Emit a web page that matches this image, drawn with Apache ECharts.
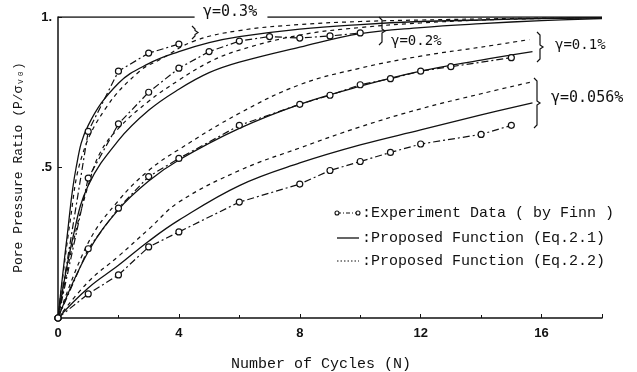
<!DOCTYPE html>
<html><head><meta charset="utf-8">
<script src="https://cdn.jsdelivr.net/npm/echarts/dist/echarts.min.js"></script>
<style>html,body{margin:0;padding:0;background:#fff}#c{width:637px;height:372px}</style>
</head><body><div id="c"></div>
<script>
// ---- data ----
const xTickLabels = ['0','4','8','12','16'];
const yTickLabels = {0.5:'.5', 1:'1.'};

// gamma = 0.3 %
const exp03N = [0,1,2,3,4];
const exp03R = [0,0.62,0.82,0.88,0.91];
const eq1_03N = [0,0.3,0.6,1,2,3,4,5,6,8,10,12,14,16,18];
const eq1_03R = [0,0.27,0.5,0.64,0.78,0.845,0.885,0.915,0.935,0.96,0.975,0.985,0.99,0.995,0.997];
const eq2_03N = [0,0.4,0.8,1.6,2.7,3.4,4.5,6,8,10,12,15,18];
const eq2_03R = [0,0.32,0.54,0.70,0.82,0.86,0.92,0.955,0.975,0.985,0.99,0.995,0.998];

// gamma = 0.2 %
const exp02N = [0,1,2,3,4,5,6,7,8,9,10];
const exp02R = [0,0.465,0.645,0.75,0.83,0.885,0.92,0.935,0.93,0.937,0.947];
const eq1_02N = [0,0.5,1,2,3,4,5,6,8,10,12,14,16,18];
const eq1_02R = [0,0.27,0.44,0.59,0.69,0.76,0.815,0.85,0.9,0.945,0.965,0.978,0.988,0.995];
const eq2_02N = [0,0.5,1,1.4,2,3,4,5,6,8,10,12,14,16,18];
const eq2_02R = [0,0.25,0.44,0.55,0.63,0.72,0.79,0.85,0.89,0.94,0.965,0.98,0.99,0.995,0.998];

// gamma = 0.1 %
const exp01N = [0,1,2,3,4,6,8,9,10,11,12,13,15];
const exp01R = [0,0.23,0.365,0.47,0.53,0.64,0.71,0.74,0.775,0.795,0.82,0.835,0.865];
const eq1_01N = [0,1,2,3,4,6,8,10,12,14,15.7];
const eq1_01R = [0,0.22,0.36,0.455,0.525,0.63,0.71,0.77,0.82,0.857,0.885];
const eq2_01N = [0,1,2,3,4,6,8,10,12,14,15.6];
const eq2_01R = [0,0.25,0.39,0.49,0.56,0.68,0.775,0.83,0.87,0.9,0.925];

// gamma = 0.056 %
const exp0056N = [0,1,2,3,4,6,8,9,10,11,12,14,15];
const exp0056R = [0,0.08,0.143,0.236,0.286,0.385,0.445,0.49,0.52,0.55,0.578,0.61,0.64];
const eq1_0056N = [0,1,2,3,4,6,8,10,12,14,15.7];
const eq1_0056R = [0,0.1,0.175,0.255,0.325,0.44,0.515,0.575,0.625,0.675,0.715];
const eq2_0056N = [0,1,2,3,4,6,8,10,12,14,15.7];
const eq2_0056R = [0,0.12,0.205,0.295,0.385,0.49,0.565,0.635,0.695,0.745,0.785];

// top frame line (broken by the 0.3% label)
const frameA = [[0,1],[4.52,1]];
const frameB = [[6.93,1],[18,1]];

const gammaLabels = ['γ=0.3%','γ=0.2%','γ=0.1%','γ=0.056%'];
const legendNames = ['Experiment Data ( by Finn )','Proposed Function (Eq.2.1)','Proposed Function (Eq.2.2)'];

// ---- chart ----
const pairs = (n, r) => n.map((v, i) => [v, r[i]]);
const K = '#111';
const DASHDOT = [7,3,2,3];
const DASH = [4,4];
function expSeries(n, r){
  return {type:'line', name:legendNames[0], data:pairs(n,r), smooth:false,
    symbol:'circle', symbolSize:6, showSymbol:true,
    lineStyle:{color:K, width:1.2, type:DASHDOT},
    itemStyle:{color:'#fff', borderColor:K, borderWidth:1.2}, z:4};
}
function eq1Series(n, r){
  return {type:'line', name:legendNames[1], data:pairs(n,r), smooth:0.4,
    symbol:'none', lineStyle:{color:K, width:1.3, type:'solid'}, itemStyle:{color:K}, z:3};
}
function eq2Series(n, r){
  return {type:'line', name:legendNames[2], data:pairs(n,r), smooth:0.4,
    symbol:'none', lineStyle:{color:K, width:1.2, type:DASH}, itemStyle:{color:K}, z:3};
}
function frameSeries(d){
  return {type:'line', name:'frame', data:d, symbol:'none', silent:true,
    lineStyle:{color:K, width:1.5}, z:2};
}
function brace(x, y1, y2){
  const ym = (y1 + y2) / 2;
  return {type:'polyline', shape:{points:[[x,y1],[x+3,y1+3],[x+3,ym-2],[x+6,ym],[x+3,ym+2],[x+3,y2-3],[x,y2]]},
    style:{stroke:K, lineWidth:1.2, fill:null}};
}
const gStyle = {fontFamily:'DejaVu Sans Mono', fontSize:14, fill:K};
const lStyle = {fontFamily:'Liberation Mono', fontSize:15, fill:K, verticalAlign:'middle'};
const legendRows = [213, 238, 261];
const iconX1 = 337, iconX2 = 358, textX = 362;
function legendGraphics(){
  const g = [];
  g.push({type:'line', shape:{x1:iconX1, y1:legendRows[0], x2:iconX2, y2:legendRows[0]},
    style:{stroke:K, lineWidth:1.2, lineDash:[4,2,1,2]}});
  g.push({type:'circle', shape:{cx:iconX1, cy:legendRows[0], r:2}, style:{stroke:K, fill:'#fff', lineWidth:1.1}});
  g.push({type:'circle', shape:{cx:iconX2, cy:legendRows[0], r:2}, style:{stroke:K, fill:'#fff', lineWidth:1.1}});
  g.push({type:'line', shape:{x1:iconX1, y1:legendRows[1], x2:iconX2+1, y2:legendRows[1]},
    style:{stroke:K, lineWidth:1.3}});
  g.push({type:'line', shape:{x1:iconX1, y1:legendRows[2], x2:iconX2+1, y2:legendRows[2]},
    style:{stroke:K, lineWidth:1.2, lineDash:[1.5,2]}});
  legendNames.forEach((nm, i) => {
    g.push({type:'text', x:textX, y:legendRows[i], style:Object.assign({text:':' + nm}, lStyle)});
  });
  return g;
}

const chart = echarts.init(document.getElementById('c'), null, {renderer:'canvas'});
chart.setOption({
  animation:false,
  backgroundColor:'#fff',
  grid:{left:58, right:35, top:17, bottom:54, containLabel:false, outerBoundsMode:'none'},
  xAxis:{
    type:'value', min:0, max:18, interval:4,
    name:'Number of Cycles (N)', nameLocation:'middle', nameGap:39,
    nameTextStyle:{fontFamily:'Liberation Mono', fontSize:15, color:K, padding:[0,18,0,0]},
    axisLine:{lineStyle:{color:K, width:1.5}},
    axisTick:{show:true, inside:true, length:4, lineStyle:{color:K}},
    minorTick:{show:true, splitNumber:2, length:3, lineStyle:{color:K}},
    splitLine:{show:false},
    axisLabel:{fontFamily:'Liberation Sans', fontWeight:'bold', fontSize:13, color:K, margin:9,
      formatter: v => (v % 4 === 0 && v <= 16) ? xTickLabels[v/4] : ''}
  },
  yAxis:{
    type:'value', min:0, max:1, interval:0.5,
    name:'Pore Pressure Ratio (P/σᵥ₀)', nameLocation:'middle', nameGap:33, nameRotate:90,
    nameTextStyle:{fontFamily:'Liberation Mono', fontSize:13, color:K},
    axisLine:{show:true, lineStyle:{color:K, width:1.5}},
    axisTick:{show:true, inside:true, length:4, lineStyle:{color:K}},
    splitLine:{show:false},
    axisLabel:{fontFamily:'Liberation Sans', fontWeight:'bold', fontSize:13, color:K, margin:6,
      formatter: v => yTickLabels[v] || ''}
  },
  series:[
    frameSeries(frameA), frameSeries(frameB),
    expSeries(exp03N, exp03R), eq1Series(eq1_03N, eq1_03R), eq2Series(eq2_03N, eq2_03R),
    expSeries(exp02N, exp02R), eq1Series(eq1_02N, eq1_02R), eq2Series(eq2_02N, eq2_02R),
    expSeries(exp01N, exp01R), eq1Series(eq1_01N, eq1_01R), eq2Series(eq2_01N, eq2_01R),
    expSeries(exp0056N, exp0056R), eq1Series(eq1_0056N, eq1_0056R), eq2Series(eq2_0056N, eq2_0056R)
  ],
  graphic:[
    {type:'text', left:203, top:5, style:Object.assign({text:gammaLabels[0]}, gStyle, {fontSize:15})},
    {type:'text', left:391, top:34, style:Object.assign({text:gammaLabels[1]}, gStyle)},
    {type:'text', left:555, top:38, style:Object.assign({text:gammaLabels[2]}, gStyle)},
    {type:'text', left:551, top:91, style:Object.assign({text:gammaLabels[3]}, gStyle, {fontSize:15})},
    brace(192, 26, 39),
    brace(379, 17, 45),
    brace(537, 32, 62),
    brace(534, 78, 128)
  ].concat(legendGraphics())
});
</script>
</body></html>
